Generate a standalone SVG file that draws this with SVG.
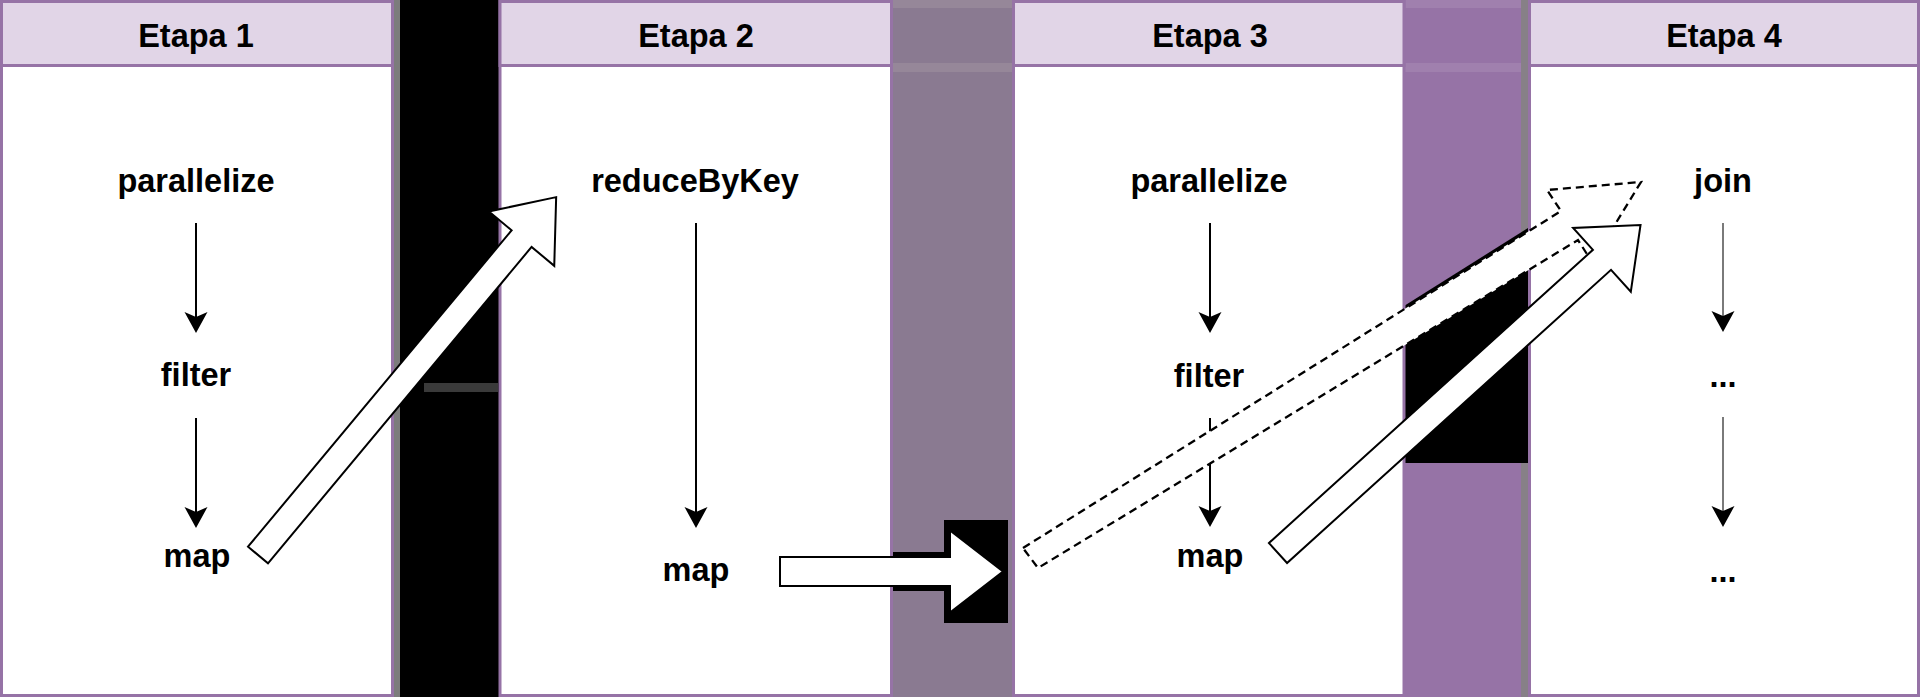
<svg xmlns="http://www.w3.org/2000/svg" width="1920" height="697" viewBox="0 0 1920 697">
  <style>
    .t { font-family: "Liberation Sans", Arial, Helvetica, sans-serif; font-weight: bold; font-size: 32.5px; fill: #000; text-anchor: middle; }
    .lane { fill: #ffffff; stroke: #9673a6; stroke-width: 3; }
    .hdr { fill: #e1d5e7; stroke: #9673a6; stroke-width: 3; }
    .edge { fill: none; stroke: #000; stroke-width: 2; marker-end: url(#ah); }
    .edge.g { stroke: #7a7a7a; }
    .big { fill: #ffffff; stroke: #000; stroke-width: 2; stroke-linejoin: miter; }
    .dash { stroke-dasharray: 8 5; stroke-width: 2.3; }
  </style>
  <defs>
    <marker id="ah" markerUnits="userSpaceOnUse" markerWidth="24" markerHeight="24" viewBox="0 0 24 24" refX="18" refY="12" orient="auto">
      <path d="M22,12 L1,0.5 L6,12 L1,23.5 Z" fill="#000"/>
    </marker>
  </defs>

  <!-- background columns between the stages -->
  <g id="background">
    <rect x="392" y="0" width="110" height="697" fill="#000"/>
    <rect x="394" y="0" width="6" height="697" fill="#7c7c7c"/>
    <rect x="424" y="383" width="74" height="9" fill="#3a3a3a"/>

    <rect x="891" y="0" width="124" height="697" fill="#8a7a91"/>
    <rect x="891" y="0" width="124" height="8" fill="#968799"/>
    <rect x="891" y="63" width="124" height="9" fill="#968799"/>
    <rect x="944" y="520" width="64" height="103" fill="#000"/>
    <rect x="893" y="552" width="52" height="39" fill="#000"/>

    <rect x="1404" y="0" width="127" height="697" fill="#9673a6"/>
    <rect x="1404" y="0" width="127" height="8" fill="#a080ae"/>
    <rect x="1404" y="63" width="127" height="9" fill="#a080ae"/>
    <rect x="1521" y="0" width="7" height="697" fill="#878087"/>
    <polygon points="1404,306 1528,228 1528,463 1404,463" fill="#000"/>
  </g>

  <!-- stage lanes -->
  <g id="etapa1">
    <rect class="lane" x="1.5" y="1.5" width="391" height="694"/>
    <rect class="hdr" x="1.5" y="1.5" width="391" height="64"/>
    <text class="t" x="196" y="46.5">Etapa 1</text>
  </g>
  <g id="etapa2">
    <rect class="lane" x="500" y="1.5" width="391.5" height="694"/>
    <rect class="hdr" x="500" y="1.5" width="391.5" height="64"/>
    <text class="t" x="696" y="46.5">Etapa 2</text>
  </g>
  <g id="etapa3">
    <rect class="lane" x="1013.5" y="1.5" width="390.5" height="694"/>
    <rect class="hdr" x="1013.5" y="1.5" width="390.5" height="64"/>
    <text class="t" x="1210" y="46.5">Etapa 3</text>
  </g>
  <g id="etapa4">
    <rect class="lane" x="1529.5" y="1.5" width="389" height="694"/>
    <rect class="hdr" x="1529.5" y="1.5" width="389" height="64"/>
    <text class="t" x="1724" y="46.5">Etapa 4</text>
  </g>

  <!-- operation nodes -->
  <g id="e1-parallelize"><text class="t" x="196" y="192">parallelize</text></g>
  <g id="e1-filter"><text class="t" x="196" y="386">filter</text></g>
  <g id="e1-map"><text class="t" x="197" y="567">map</text></g>

  <g id="e2-reduceByKey"><text class="t" x="695" y="192">reduceByKey</text></g>
  <g id="e2-map"><text class="t" x="696" y="581">map</text></g>

  <g id="e3-parallelize"><text class="t" x="1209" y="192">parallelize</text></g>
  <g id="e3-filter"><text class="t" x="1209" y="387">filter</text></g>
  <g id="e3-map"><text class="t" x="1210" y="567">map</text></g>

  <g id="e4-join"><text class="t" x="1723" y="192">join</text></g>
  <g id="e4-dots1"><text class="t" x="1723" y="387">...</text></g>
  <g id="e4-dots2"><text class="t" x="1723" y="582">...</text></g>

  <!-- connectors -->
  <g id="connectors">
    <line class="edge" x1="196" y1="223" x2="196" y2="329"/>
    <line class="edge" x1="196" y1="418" x2="196" y2="524"/>
    <line class="edge" x1="696" y1="223" x2="696" y2="524"/>
    <line class="edge" x1="1210" y1="223" x2="1210" y2="329"/>
    <line class="edge" x1="1210" y1="418" x2="1210" y2="523"/>
    <line class="edge g" x1="1723" y1="223" x2="1723" y2="328"/>
    <line class="edge g" x1="1723" y1="417" x2="1723" y2="523"/>

    <polygon class="big" transform="translate(258,555) rotate(-50.2)" points="0,-13 411.8,-13 411.8,-42.5 465.8,0 411.8,42.5 411.8,13 0,13"/>
    <polygon class="big" points="780,557 950,557 950,530.5 1003,571.5 950,612.5 950,586 780,586"/>
    <polygon class="big dash" points="1023,548 1561,211 1547,190 1641,182 1592,262 1578,240 1038,568"/>
    <polygon class="big" transform="translate(1278,553) rotate(-42.14)" points="0,-13.5 436.9,-13.5 436.9,-43 488.9,0 436.9,43 436.9,13.5 0,13.5"/>
  </g>
</svg>
